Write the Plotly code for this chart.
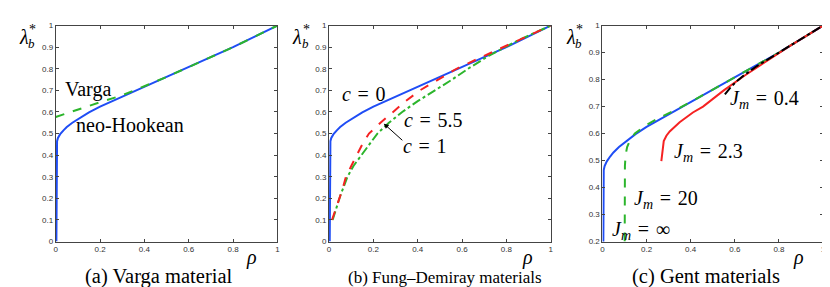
import plotly.graph_objects as go

# ---------------- data ----------------
# neo-Hookean / c=0 / Jm=inf (blue)
nh_rho = [0.003, 0.003, 0.004, 0.006, 0.01, 0.02, 0.035, 0.05, 0.075, 0.1, 0.15, 0.2, 0.25, 0.3,
          0.35, 0.4, 0.5, 0.6, 0.7, 0.8, 0.9, 1.0]
nh_lam = [0.0, 0.3, 0.44, 0.465, 0.48, 0.497, 0.515, 0.53, 0.55, 0.567, 0.598, 0.625, 0.648, 0.67,
          0.694, 0.717, 0.762, 0.808, 0.853, 0.9, 0.95, 1.0]
# Varga (green dashed)
va_rho = [0.0, 0.1, 0.2, 0.3, 0.4, 0.5, 0.6, 0.7, 0.8, 0.9, 1.0]
va_lam = [0.577, 0.612, 0.645, 0.677, 0.718, 0.762, 0.808, 0.853, 0.9, 0.95, 1.0]
# Fung-Demiray c=5.5 (red dashed)
fr_rho = [0.013, 0.025, 0.04, 0.06, 0.076, 0.1, 0.125, 0.15, 0.18, 0.232, 0.289, 0.345, 0.41,
          0.49, 0.575, 0.7, 0.85, 1.0]
fr_lam = [0.1, 0.14, 0.18, 0.24, 0.3, 0.35, 0.4, 0.45, 0.5, 0.55, 0.6, 0.65, 0.7, 0.75, 0.8,
          0.86, 0.93, 1.0]
# Fung-Demiray c=1 (green dash-dot)
fg_rho = [0.016, 0.03, 0.05, 0.083, 0.11, 0.146, 0.18, 0.218, 0.27, 0.33, 0.4, 0.478, 0.555,
          0.627, 0.72, 0.86, 1.0]
fg_lam = [0.1, 0.15, 0.21, 0.3, 0.35, 0.4, 0.45, 0.5, 0.55, 0.6, 0.65, 0.7, 0.75, 0.8, 0.86,
          0.935, 1.0]
# Gent Jm=20 (green dashed)
g20_rho = [0.101, 0.101, 0.102, 0.105, 0.112, 0.125, 0.147, 0.175, 0.2, 0.25, 0.3, 0.35, 0.4,
           0.5, 0.6, 0.7, 0.8, 0.9, 1.0]
g20_lam = [0.2, 0.4, 0.48, 0.52, 0.55, 0.575, 0.6, 0.617, 0.632, 0.655, 0.674, 0.695, 0.717,
           0.762, 0.808, 0.853, 0.9, 0.95, 1.0]
# Gent Jm=2.3 (red solid)
g23_rho = [0.267, 0.272, 0.278, 0.29, 0.305, 0.35, 0.41, 0.456, 0.55, 0.645, 0.75, 0.85, 1.0]
g23_lam = [0.498, 0.54, 0.572, 0.592, 0.608, 0.642, 0.678, 0.7, 0.76, 0.815, 0.87, 0.925, 1.0]
# Gent Jm=0.4 (black dash-dot)
g04_rho = [0.555, 0.58, 0.61, 0.64, 0.7, 0.8, 0.9, 1.0]
g04_lam = [0.745, 0.77, 0.795, 0.815, 0.85, 0.9, 0.95, 1.0]

x_ticks = [0, 0.2, 0.4, 0.6, 0.8, 1]
x_ticktext = ["0", "0.2", "0.4", "0.6", "0.8", "1"]
y_ticks_ab = [0, 0.1, 0.2, 0.3, 0.4, 0.5, 0.6, 0.7, 0.8, 0.9, 1]
y_ticktext_ab = ["0", "0.1", "0.2", "0.3", "0.4", "0.5", "0.6", "0.7", "0.8", "0.9", "1"]
y_ticks_c = [0.2, 0.3, 0.4, 0.5, 0.6, 0.7, 0.8, 0.9, 1]
y_ticktext_c = ["0.2", "0.3", "0.4", "0.5", "0.6", "0.7", "0.8", "0.9", "1"]

BLUE = "#1f4df5"
GREEN = "#2cb52c"
RED = "#f52222"
BLACK = "#000000"
W, H = 830, 287

fig = go.Figure()

def add(x, y, color, dash, ax, width=2):
    fig.add_trace(go.Scatter(x=x, y=y, mode="lines", xaxis="x" + ax, yaxis="y" + ax,
                             line=dict(color=color, width=width, dash=dash),
                             showlegend=False, hoverinfo="skip"))

# panel a
add(nh_rho, nh_lam, BLUE, "solid", "")
add(va_rho, va_lam, GREEN, "dash", "")
# panel b
add(nh_rho, nh_lam, BLUE, "solid", "2")
add(fg_rho, fg_lam, GREEN, "dashdot", "2")
add(fr_rho, fr_lam, RED, "dash", "2")
# panel c
add(nh_rho, nh_lam, BLUE, "solid", "3")
add(g20_rho, g20_lam, GREEN, "dash", "3")
add(g23_rho, g23_lam, RED, "solid", "3")
add(g04_rho, g04_lam, BLACK, "dashdot", "3")

yd = [1 - 237 / H, 1 - 14 / H]
doms = [(46, 269), (321, 544), (596, 818)]

axis_common = dict(showgrid=False, zeroline=False, showline=True, linecolor="#444",
                   linewidth=1, mirror="ticks", ticks="inside", ticklen=3, tickcolor="#444",
                   tickfont=dict(family="Liberation Sans", size=8, color="#333"))

layout = dict(width=W, height=H, margin=dict(l=0, r=0, t=0, b=0),
              paper_bgcolor="white", plot_bgcolor="white", showlegend=False,
              font=dict(family="Liberation Serif"))
for i, (l, r) in enumerate(doms):
    s = "" if i == 0 else str(i + 1)
    layout["xaxis" + s] = dict(domain=[l / W, r / W], range=[0, 1], tickvals=x_ticks,
                               ticktext=x_ticktext, anchor="y" + s, **axis_common)
    if i < 2:
        yr, yt, ytt = [0, 1], y_ticks_ab, y_ticktext_ab
    else:
        yr, yt, ytt = [0.2, 1], y_ticks_c, y_ticktext_c
    layout["yaxis" + s] = dict(domain=yd, range=yr, tickvals=yt, ticktext=ytt,
                               anchor="x" + s, **axis_common)
fig.update_layout(**layout)

def txt(x, y, s, size=17, family="Liberation Serif", color="black"):
    fig.add_annotation(x=x / W, y=1 - y / H, xref="paper", yref="paper", text=s,
                       showarrow=False, xanchor="center", yanchor="middle",
                       font=dict(family=family, size=size, color=color))

# axis labels
for (l, r) in doms:
    txt(l - 32, 26, "<i>λ</i>", size=20)
    txt(l - 24, 33, "<i>b</i>", size=13)
    txt(l - 23, 18, "*", size=14)
for xp in [243, 521, 793]:
    txt(xp, 253, "<i>ρ</i>", size=20)

# captions
txt(150, 273, "(a) Varga material", size=20.5)
txt(438, 274, "(b) Fung–Demiray materials", size=17)
txt(700, 273, "(c) Gent materials", size=20.5)

# curve labels
E = "\u2004"
txt(78, 80, "Varga", size=20)
txt(121, 117, "neo-Hookean", size=20)
txt(356, 85, "<i>c</i>" + E + "=" + E + "0", size=20)
txt(426, 111, "<i>c</i>" + E + "=" + E + "5.5", size=20)
txt(418, 138, "<i>c</i>" + E + "=" + E + "1", size=20)
txt(759, 90, "<i>J<sub>m</sub></i>" + E + "=" + E + "0.4", size=20)
txt(703, 145, "<i>J<sub>m</sub></i>" + E + "=" + E + "2.3", size=20)
txt(660, 194, "<i>J<sub>m</sub></i>" + E + "=" + E + "20", size=20)
txt(635, 226, "<i>J<sub>m</sub></i>" + E + "=" + E + "∞", size=20)

# arrow for c = 1
fig.add_annotation(x=0.247, y=0.546, xref="x2", yref="y2", text="", showarrow=True,
                   ax=20, ay=18, arrowhead=2, arrowsize=1, arrowwidth=1, arrowcolor="black")

fig.write_html("out.html")
